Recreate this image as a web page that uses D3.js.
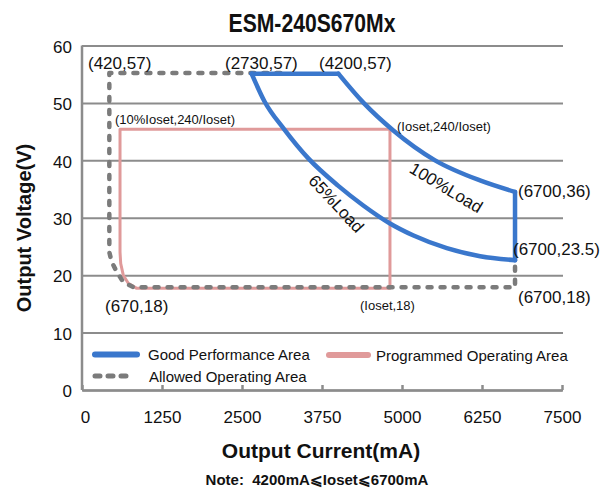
<!DOCTYPE html>
<html>
<head>
<meta charset="utf-8">
<script src="https://cdn.jsdelivr.net/npm/d3@7"></script>
<style>
	body { margin: 0; background: #fff; }
	text { font-family: "Liberation Sans", Arial, sans-serif; fill: #111; }
	.grid line { stroke: #8c8c8c; stroke-width: 2; }
	.grid path { display: none; }
	.xaxis path, .xaxis line { stroke: #8c8c8c; stroke-width: 2.5; }
</style>
</head>
<body>
<div id="chart"></div>
<script>
// tick values
var xTicks = [0, 1250, 2500, 3750, 5000, 6250, 7500]
var yTicks = [0, 10, 20, 30, 40, 50, 60]

// good performance area (blue)
var goodTop = [[2650, 55.1], [4005, 55.1]]
var load100 = [[4005, 55.1], [4400, 50.0], [4864, 45.2], [5516, 40.0], [6219, 36.5], [6766, 34.5]]
var goodRight = [[6766, 34.5], [6766, 22.6]]
var load65 = [[2650, 55.1], [2850, 50.3], [3160, 45.4], [3540, 40.3], [4000, 35.6], [4400, 32.1], [4812, 29.0], [5180, 26.9], [5700, 24.7], [6220, 23.3], [6766, 22.6]]

// allowed operating area (grey dashed)
var allowed = [[3100, 55.2], [427, 55.2], [427, 24.0], [464, 22.3], [542, 20.6], [645, 18.8], [802, 17.9], [6766, 17.9], [6766, 22.6]]

// programmed operating area (pink)
var programmed = [[4812, 45.4], [594, 45.4], [594, 24.0], [605, 22.0], [645, 20.0], [723, 18.6], [855, 17.7], [4812, 17.7], [4812, 45.4]]

var legendNames = ['Good Performance Area', 'Allowed Operating Area', 'Programmed Operating Area']

var blue = '#3a77cc'
var pink = '#e09a9a'
var grey = '#7b7b7b'

var width = 605
var height = 491

var svg = d3.select('#chart').append('svg')
	.attr('width', width)
	.attr('height', height)

var xScale = d3.scaleLinear()
	.domain([0, 7500])
	.range([82, 562])

var yScale = d3.scaleLinear()
	.domain([0, 60])
	.range([390, 45.5])

// gridlines + y labels
svg.append('g')
	.attr('class', 'grid')
	.attr('transform', 'translate(82,0)')
	.call(
		d3.axisLeft(yScale)
			.tickValues(yTicks)
			.tickSize(-481)
			.tickPadding(10)
	)
	.selectAll('text')
	.style('font-size', '17px')
	.attr('dy', '0.4em')

// left axis line
svg.append('line')
	.attr('x1', 82).attr('x2', 82)
	.attr('y1', yScale(60)).attr('y2', yScale(0))
	.attr('stroke', '#8c8c8c')
	.attr('stroke-width', 2.5)

// bottom axis, ticks pointing up
var xAxis = svg.append('g')
	.attr('class', 'xaxis')
	.attr('transform', 'translate(0,390)')
	.call(
		d3.axisBottom(xScale)
			.tickValues(xTicks)
			.tickSizeInner(-5)
			.tickSizeOuter(0)
			.tickPadding(21)
			.tickFormat(d3.format('d'))
	)
xAxis.selectAll('text').style('font-size', '17px')
xAxis.selectAll('.tick').filter(function(d) { return d === 0 })
	.select('text').attr('dx', 3)

var line = d3.line()
	.x(function(d) { return xScale(d[0]) })
	.y(function(d) { return yScale(d[1]) })

var curve = d3.line()
	.curve(d3.curveMonotoneX)
	.x(function(d) { return xScale(d[0]) })
	.y(function(d) { return yScale(d[1]) })

// pink
svg.append('path')
	.datum(programmed)
	.attr('d', line)
	.attr('fill', 'none')
	.attr('stroke', pink)
	.attr('stroke-width', 3)
	.attr('stroke-linejoin', 'round')

// grey dashed
svg.append('path')
	.datum(allowed)
	.attr('d', line)
	.attr('fill', 'none')
	.attr('stroke', grey)
	.attr('stroke-width', 4.5)
	.attr('stroke-linecap', 'round')
	.attr('stroke-linejoin', 'round')
	.attr('stroke-dasharray', '4,9')

// blue
;[goodTop, goodRight].forEach(function(seg) {
	svg.append('path')
		.datum(seg)
		.attr('d', line)
		.attr('fill', 'none')
		.attr('stroke', blue)
		.attr('stroke-width', 4.5)
		.attr('stroke-linecap', 'round')
})
;[load100, load65].forEach(function(seg) {
	svg.append('path')
		.datum(seg)
		.attr('d', curve)
		.attr('fill', 'none')
		.attr('stroke', blue)
		.attr('stroke-width', 4.5)
		.attr('stroke-linecap', 'round')
})

// point labels
function label(txt, x, y, size) {
	svg.append('text')
		.attr('x', x)
		.attr('y', y)
		.attr('dominant-baseline', 'central')
		.style('font-size', size + 'px')
		.text(txt)
}
label('(420,57)', 88, 63, 17)
label('(2730,57)', 225, 63, 17)
label('(4200,57)', 319, 63, 17)
label('(10%Ioset,240/Ioset)', 115, 119, 13)
label('(Ioset,240/Ioset)', 397, 126, 13)
label('(6700,36)', 518, 191, 17)
label('(6700,23.5)', 513, 249, 17)
label('(6700,18)', 518, 297, 17)
label('(Ioset,18)', 360, 305, 13)
label('(670,18)', 105, 306, 17)

svg.append('text')
	.attr('transform', 'translate(446,188) rotate(31)')
	.attr('text-anchor', 'middle')
	.attr('dominant-baseline', 'central')
	.style('font-size', '17px')
	.text('100%Load')

svg.append('text')
	.attr('transform', 'translate(336,204) rotate(47)')
	.attr('text-anchor', 'middle')
	.attr('dominant-baseline', 'central')
	.style('font-size', '17px')
	.text('65%Load')

// legend
var legend = svg.append('g')
legend.append('line')
	.attr('x1', 95).attr('x2', 137).attr('y1', 354.5).attr('y2', 354.5)
	.attr('stroke', blue).attr('stroke-width', 6).attr('stroke-linecap', 'round')
legend.append('line')
	.attr('x1', 95).attr('x2', 133).attr('y1', 376).attr('y2', 376)
	.attr('stroke', grey).attr('stroke-width', 5).attr('stroke-linecap', 'round')
	.attr('stroke-dasharray', '5,8')
legend.append('line')
	.attr('x1', 329).attr('x2', 368).attr('y1', 355).attr('y2', 355)
	.attr('stroke', pink).attr('stroke-width', 6).attr('stroke-linecap', 'round')
label(legendNames[0], 148, 354.5, 15)
label(legendNames[1], 149, 376, 15)
label(legendNames[2], 376, 355, 15)

// titles
svg.append('text')
	.attr('transform', 'translate(312,31.5) scale(0.92,1.12)')
	.attr('text-anchor', 'middle')
	.style('font-size', '23px')
	.style('font-weight', 'bold')
	.text('ESM-240S670Mx')

svg.append('text')
	.attr('x', 321)
	.attr('y', 457.5)
	.attr('text-anchor', 'middle')
	.style('font-size', '21px')
	.style('font-weight', 'bold')
	.text('Output Current(mA)')

svg.append('text')
	.attr('transform', 'translate(31,228) rotate(-90)')
	.attr('text-anchor', 'middle')
	.style('font-size', '20px')
	.style('font-weight', 'bold')
	.text('Output Voltage(V)')

svg.append('text')
	.attr('x', 317)
	.attr('y', 485)
	.attr('text-anchor', 'middle')
	.style('font-size', '15px')
	.style('font-weight', 'bold')
	.style('white-space', 'pre')
	.text('Note:  4200mA\u2A7DIoset\u2A7D6700mA')
</script>
</body>
</html>
